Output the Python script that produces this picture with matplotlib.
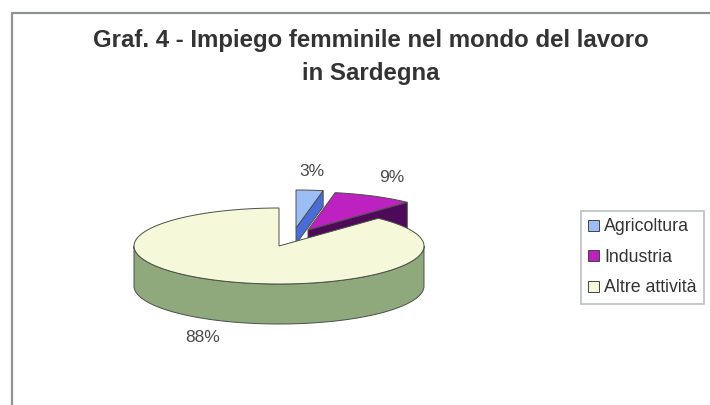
import numpy as np
import matplotlib.pyplot as plt
from matplotlib.patches import Patch, Polygon

plt.rcParams['font.family'] = ['Liberation Sans', 'DejaVu Sans']

# Data
categories = ['Agricoltura', 'Industria', 'Altre attività']
values = [3, 9, 88]
labels = ['3%', '9%', '88%']
title = 'Graf. 4 - Impiego femminile nel mondo del lavoro\nin Sardegna'

# Colours: top face, side face
top_colors = ['#9dbdf6', '#bd22c0', '#f6f9d9']
side_colors = ['#4a6cd8', '#4e0a58', '#8fa97c']
edge = '#4a504a'

# Pie geometry in pixels
rx, ry = 145, 38
apexes = [(296, 228), (308, 230), (279, 246)]
depths = [16, 40, 40]
label_pos = [(312, 172), (392, 177), (203, 337)]


def rim(cx, cy, a0, a1):
    # angles in degrees clockwise from 12 o'clock
    t = np.radians(np.linspace(a0, a1, 200))
    return np.column_stack((cx + rx * np.sin(t), cy - ry * np.cos(t)))


fig = plt.figure(figsize=(7.1, 4.05), dpi=100)
ax = fig.add_axes([0, 0, 1, 1])
ax.set_xlim(0, 710)
ax.set_ylim(405, 0)
ax.axis('off')

# chart frame, only top and left are in the crop
ax.plot([12, 12, 710], [405, 13, 13], color='#8d9393', lw=1.6, solid_capstyle='butt')

edges = np.cumsum([0] + values) * 3.6
for i in range(3):
    cx, cy = apexes[i]
    a0, a1 = edges[i], edges[i + 1]
    d = depths[i]
    arc = rim(cx, cy, a0, a1)
    if i < 2:
        # cut face seen on the leading edge of the exploded slices
        end = arc[-1]
        ax.add_patch(Polygon([(cx, cy), end, end + (0, d), (cx, cy + d)],
                             fc=side_colors[i], ec=edge, lw=0.7, zorder=2 + i))
    else:
        # front wall of the big slice
        front = rim(cx, cy, 90, 270)
        wall = np.vstack((front, front[::-1] + (0, d)))
        ax.add_patch(Polygon(wall, fc=side_colors[i], ec=edge, lw=0.7, zorder=4))
    ax.add_patch(Polygon(np.vstack(([(cx, cy)], arc)), fc=top_colors[i], ec=edge,
                         lw=0.7, zorder=3 + i if i < 2 else 5))

for txt, (x, y) in zip(labels, label_pos):
    ax.text(x, y, txt, ha='center', va='center', fontsize=12.5, color='#4a4a4a')

ax.text(371, 57, title, ha='center', va='center', fontsize=17.3, fontweight='bold',
        color='#333333', linespacing=1.6)

handles = [Patch(fc=c, ec='#444444', lw=0.7) for c in top_colors]
leg = ax.legend(handles, categories, loc='upper left', bbox_to_anchor=(581, 211),
                bbox_transform=ax.transData, fontsize=12.8, frameon=True, fancybox=False,
                edgecolor='#a8b0b0', labelcolor='#333333', handlelength=0.6,
                handleheight=0.6, handletextpad=0.3, labelspacing=0.76,
                borderpad=0.42, borderaxespad=0)
leg.get_frame().set_linewidth(1.2)

fig.savefig('out.png', dpi=100)
